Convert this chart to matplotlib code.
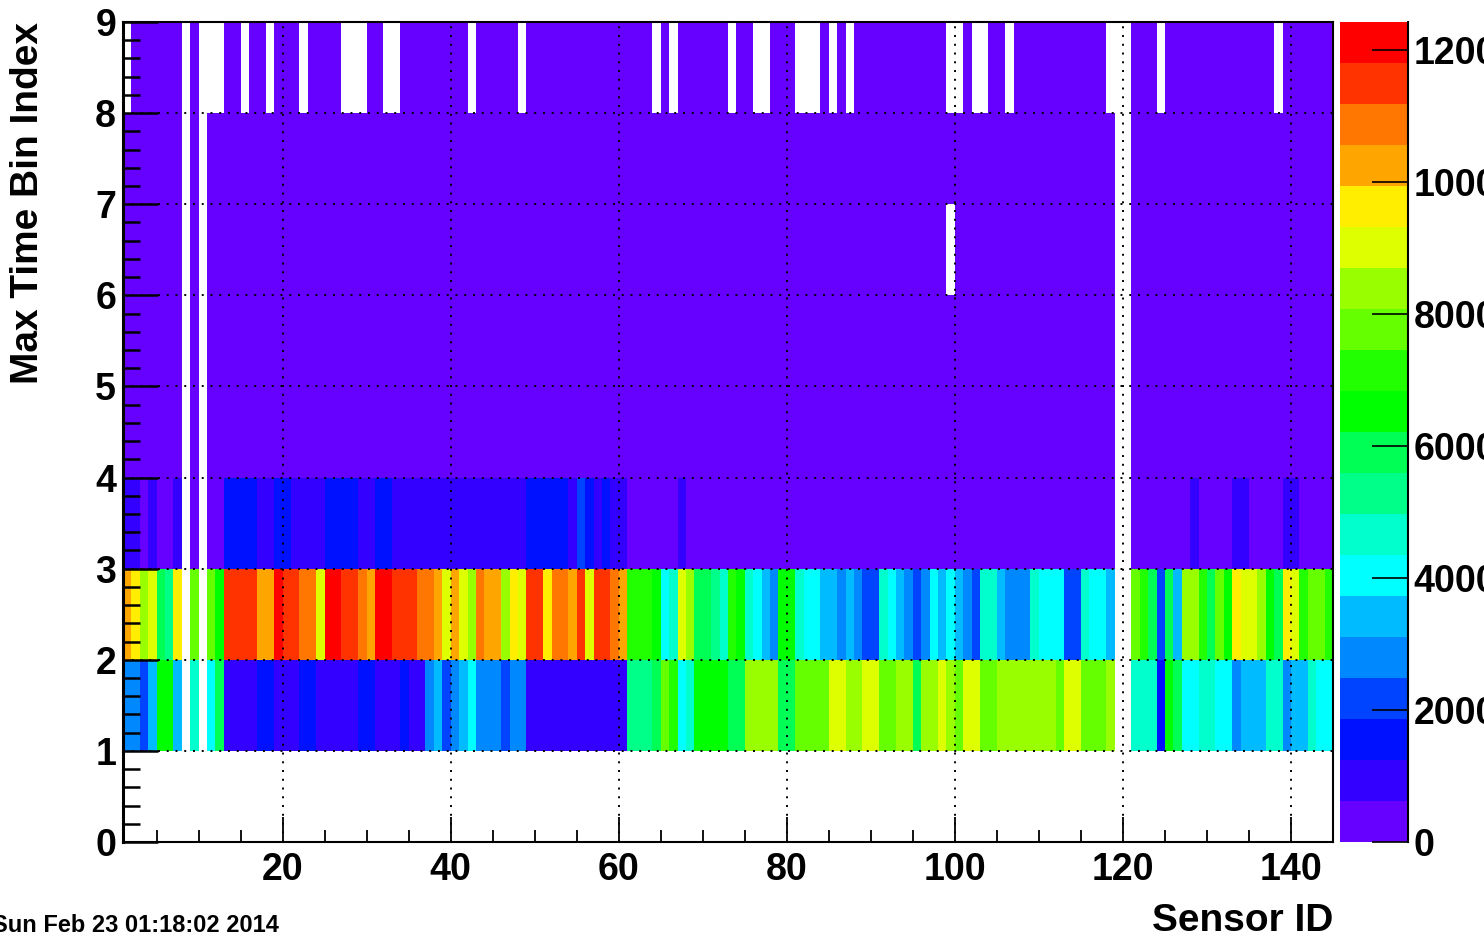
import matplotlib
matplotlib.use("Agg")
import matplotlib.pyplot as plt
from matplotlib.colors import ListedColormap, BoundaryNorm
from matplotlib.ticker import MultipleLocator
import numpy as np

plt.rcParams['font.family'] = ['Liberation Sans', 'DejaVu Sans']
plt.rcParams['font.weight'] = 'bold'

# 20 colour bands of the z palette, lowest first (ROOT style rainbow)
band_colors = ['#6600ff', '#3300ff', '#0011ff', '#0044ff', '#0088ff',
               '#00bbff', '#00ffff', '#00ffcc', '#00ff88', '#00ff55',
               '#00ff00', '#22ff00', '#66ff00', '#99ff00', '#ddff00',
               '#ffee00', '#ffa500', '#ff7700', '#ff3300', '#ff0000']
band_codes = 'PVBbASCQMNGgLlYyOoRr'
# estimated bin content for a cell of each band (middle of the band)
band_counts = [310, 930, 1550, 2170, 2800, 3420, 4040, 4660, 5280, 5900,
               6520, 7140, 7760, 8380, 9000, 9630, 10250, 10870, 11490, 12420]
z_max = 12420

sensor_edges = np.arange(1, 146)
time_edges = np.arange(0, 10)

# one character per sensor (1..144), '.' = empty bin
time0 = '.' * 144
time1 = ("AAbSGGS.Q." "CNVVVVBBVV" "VBBVVVVVBB" "VVVBVVASbA" "SCAAAbAAVV"
         "VVVVVVVVVV" "MMMNLgCQGG" "GGNNllllNN" "LLLLYYllYY" "LLllNllYlL"
         "YYLLllllll" "lLYYLLLl.." "QQQBGNCCQQ" "CCASSSQQAS" "SQCC")
time2 = ("OylYNMy.L." "LGRRRROOrR" "RooYrrRRoO" "rrRRRooOYO" "YloOOlyYRR"
         "yooORYRRoO" "gggGCQYlNN" "MQgGQCSAGG" "QCCSSASAbb" "QCSAbACSCS"
         "AbQQSAAAQC" "CCbbQCCS.." "LgNbNSllgN" "LGyYYlGNyY" "gLLg")
time3 = ("VVPVPPV.P." "PPBBBBVVBB" "VVVVBBBBVV" "BBVVVVVVVV" "VVVVVVVVBB"
         "BBBVbBVBVV" "PPPPPPVPPP" "PPPPPPPPPP" "PPPPPPPPPP" "PPPPPPPPPP"
         "PPPPPPPPPP" "PPPPPPPP.." "PPPPPPPVPP" "PPVVPPPPVV" "PPPP")
time4 = ("PPPPPPP.P." "PPPPPPPPPP" "PPPPPPPPPP" "PPPPPPPPPP" "PPPPPPPPPP"
         "PPPPPPPPPP" "PPPPPPPPPP" "PPPPPPPPPP" "PPPPPPPPPP" "PPPPPPPPPP"
         "PPPPPPPPPP" "PPPPPPPP.." "PPPPPPPPPP" "PPPPPPPPPP" "PPPP")
time5 = time4
time6 = ("PPPPPPP.P." "PPPPPPPPPP" "PPPPPPPPPP" "PPPPPPPPPP" "PPPPPPPPPP"
         "PPPPPPPPPP" "PPPPPPPPPP" "PPPPPPPPPP" "PPPPPPPPPP" "PPPPPPPP.P"
         "PPPPPPPPPP" "PPPPPPPP.." "PPPPPPPPPP" "PPPPPPPPPP" "PPPP")
time7 = time4
time8 = (".PPPPPP.P." "..PP.PP.PP" "P.PPPP...P" "P..PPPPPPP" "P.PPPPP.PP"
         "PPPPPPPPPP" "PPP.P.PPPP" "PP.PP..PPP" "...P.P.PPP" "PPPPPPPP.."
         "P..PP.PPPP" "PPPPPPP..." "PPP.PPPPPP" "PPPPPPP.PP" "PPPP")

rows = [time0, time1, time2, time3, time4, time5, time6, time7, time8]
counts = np.array([[0 if c == '.' else band_counts[band_codes.index(c)]
                    for c in r] for r in rows], dtype=float)
counts = np.ma.masked_equal(counts, 0)

cmap = ListedColormap(band_colors)
levels = np.linspace(0, z_max, 21)
norm = BoundaryNorm(levels, cmap.N)

fig = plt.figure(figsize=(14.84, 9.42), dpi=100)
ax = fig.add_axes([123/1484, 1 - 842/942, 1210/1484, 820/942])
mesh = ax.pcolormesh(sensor_edges, time_edges, counts, cmap=cmap, norm=norm)

ax.set_xlim(1, 145)
ax.set_ylim(0, 9)
ax.set_xticks(np.arange(20, 141, 20))
ax.set_yticks(np.arange(0, 10))
ax.xaxis.set_minor_locator(MultipleLocator(5))
ax.yaxis.set_minor_locator(MultipleLocator(0.2))
ax.tick_params(axis='x', which='major', direction='in', length=18, width=1.3,
               labelsize=27, pad=7)
ax.tick_params(axis='x', which='minor', direction='in', length=9, width=1.3)
ax.tick_params(axis='y', which='major', direction='in', length=25, width=1.8,
               labelsize=27, pad=5)
ax.tick_params(axis='y', which='minor', direction='in', length=12, width=1.8)
ax.set_axisbelow(False)
ax.grid(True, which='major', color='black', linestyle=(0, (1, 3.5)), linewidth=1.4)
for s in ax.spines.values():
    s.set_linewidth(1.5)
ax.spines['left'].set_linewidth(2.2)

cax = fig.add_axes([1340/1484, 1 - 842/942, 68/1484, 820/942])
cb = fig.colorbar(mesh, cax=cax, ticks=np.arange(0, 12001, 2000))
cb.outline.set_visible(False)
cax.axvline(1, color='black', linewidth=1.5, clip_on=False)
cax.tick_params(direction='in', length=26, width=1.2, labelsize=27, pad=4)
cax.minorticks_off()

fig.text(28/1484, 1 - 22/942, 'Max Time Bin Index', rotation=90,
         ha='center', va='top', fontsize=28)
fig.text(1333/1484, 1 - 921/942, 'Sensor ID', ha='right', va='center', fontsize=28)
fig.text(-8/1484, 1 - 926/942, 'Sun Feb 23 01:18:02 2014', ha='left',
         va='center', fontsize=17)

fig.savefig('out.png', dpi=100)
